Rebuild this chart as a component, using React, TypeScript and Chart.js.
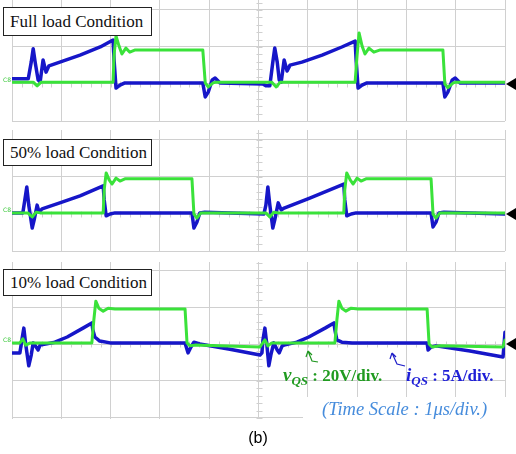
import React, { useEffect, useRef } from "react";
import { Chart, registerables } from "chart.js";
Chart.register(...registerables);

// ---- data (time in µs = divisions, amplitude in divisions) ----
const xTicks = [0, 1, 2, 3, 4, 5, 6, 7, 8, 9, 10];

// Full load
const p1GreenT = [0, 0.43, 0.51, 0.59, 2.05, 2.07, 2.11, 2.17, 2.23, 2.31, 2.39, 2.5, 3.87, 3.92, 3.98, 4.08, 4.14, 5.27, 5.36, 5.44, 6.96, 7.0, 7.04, 7.1, 7.16, 7.24, 7.34, 7.47, 8.74, 8.78, 8.84, 8.95, 9.01, 10];
const p1GreenV = [0.05, 0.05, -0.05, 0.05, 0.05, 0.78, 1.3, 1.03, 0.81, 0.97, 0.86, 0.92, 0.92, 0.03, -0.08, 0.03, 0.05, 0.05, -0.08, 0.05, 0.05, 0.78, 1.38, 1.03, 0.81, 0.97, 0.86, 0.92, 0.92, 0.0, -0.1, 0.03, 0.05, 0.05];
const p1BlueT = [0, 0.33, 0.39, 0.43, 0.47, 0.53, 0.57, 0.63, 0.69, 0.75, 0.97, 1.38, 1.79, 2.05, 2.07, 2.11, 2.19, 2.29, 3.87, 3.92, 3.98, 4.06, 4.12, 4.22, 5.09, 5.15, 5.23, 5.29, 5.33, 5.38, 5.42, 5.46, 5.52, 5.58, 5.64, 5.88, 6.29, 6.69, 6.96, 6.98, 7.02, 7.1, 7.2, 8.74, 8.78, 8.84, 8.93, 8.99, 9.09, 10];
const p1BlueV = [0.14, 0.14, 0.59, 0.95, 0.59, 0.11, 0.05, 0.65, 0.32, 0.49, 0.59, 0.78, 1.0, 1.19, 0.65, -0.11, -0.03, 0.03, 0.03, -0.35, -0.22, 0.11, 0.16, 0.03, 0, -0.05, -0.05, 0.59, 0.97, 0.59, 0.11, 0.05, 0.65, 0.35, 0.51, 0.59, 0.78, 1.0, 1.16, 0.65, -0.11, -0.03, 0.03, 0.03, -0.35, -0.22, 0.11, 0.16, 0.03, 0.03];

// 50% load
const p2GreenT = [0, 0.32, 0.41, 0.49, 0.57, 1.85, 1.87, 1.91, 1.97, 2.03, 2.11, 2.19, 2.29, 3.65, 3.69, 3.75, 3.83, 3.89, 5.15, 5.23, 5.31, 5.4, 6.73, 6.75, 6.79, 6.86, 6.92, 7.0, 7.08, 7.18, 8.5, 8.54, 8.6, 8.68, 10];
const p2GreenV = [0.03, 0.03, -0.08, 0.05, 0.03, 0.03, 0.65, 1.11, 0.92, 0.81, 0.97, 0.89, 0.95, 0.95, 0, -0.11, 0.03, 0.03, 0.03, -0.08, 0.05, 0.03, 0.03, 0.65, 1.11, 0.92, 0.81, 0.97, 0.89, 0.95, 0.95, 0, -0.11, 0.03, 0.03];
const p2BlueT = [0, 0.22, 0.26, 0.3, 0.34, 0.41, 0.45, 0.51, 0.55, 0.61, 0.97, 1.38, 1.85, 1.87, 1.91, 1.99, 2.09, 3.65, 3.69, 3.75, 3.81, 3.91, 5.11, 5.15, 5.19, 5.23, 5.29, 5.33, 5.4, 5.46, 5.52, 6.04, 6.73, 6.75, 6.79, 6.88, 6.98, 8.5, 8.54, 8.6, 8.66, 8.76, 10];
const p2BlueV = [0.03, 0.03, 0.38, 0.73, 0.24, -0.38, -0.16, 0.24, 0.05, 0.14, 0.3, 0.49, 0.76, 0.38, -0.05, 0, 0.03, 0.03, -0.38, -0.22, 0.03, 0.05, 0, 0.24, 0.73, 0.24, -0.38, -0.16, 0.3, 0.11, 0.16, 0.43, 0.81, 0.38, -0.05, 0, 0.03, 0.03, -0.35, -0.22, 0.03, 0.05, 0];

// 10% load
const p3GreenT = [0, 0.16, 0.22, 0.28, 0.37, 1.62, 1.66, 1.7, 1.76, 1.85, 1.95, 2.09, 3.51, 3.55, 3.61, 3.71, 5.03, 5.07, 5.13, 5.19, 5.27, 6.55, 6.59, 6.63, 6.69, 6.77, 6.88, 7.02, 8.42, 8.46, 8.52, 8.68, 9.96, 10];
const p3GreenV = [0.03, 0.03, 0.14, -0.03, 0.03, 0.03, 0.65, 1.16, 0.97, 0.89, 0.97, 0.95, 0.95, 0.03, -0.05, -0.03, -0.08, 0, 0.11, -0.05, 0.03, 0.03, 0.65, 1.16, 0.97, 0.89, 0.97, 0.95, 0.95, 0, -0.08, -0.05, -0.08, 0.11];
const p3BlueT = [0, 0.16, 0.2, 0.24, 0.28, 0.34, 0.39, 0.43, 0.49, 0.53, 0.57, 0.87, 1.12, 1.44, 1.62, 1.64, 1.68, 1.78, 1.99, 3.51, 3.57, 3.63, 3.69, 3.81, 4.42, 5.03, 5.07, 5.09, 5.13, 5.17, 5.21, 5.25, 5.31, 5.38, 5.42, 5.48, 5.52, 5.78, 6.02, 6.35, 6.53, 6.55, 6.59, 6.69, 6.9, 8.42, 8.44, 8.5, 8.6, 9.29, 9.96, 9.98, 10];
const p3BlueV = [-0.24, -0.24, 0.11, 0.43, -0.03, -0.59, -0.3, 0.03, -0.08, -0.16, -0.03, 0.05, 0.19, 0.43, 0.57, 0.38, 0.19, 0.08, 0.03, 0.03, -0.24, -0.08, 0.05, 0, -0.14, -0.3, -0.24, 0.11, 0.43, -0.03, -0.59, -0.3, 0.03, -0.16, -0.24, -0.05, -0.03, 0.05, 0.19, 0.43, 0.57, 0.38, 0.11, 0.05, 0.03, 0.03, -0.16, -0.08, -0.05, -0.19, -0.35, -0.03, 0.32];

const panelTitles = ["Full load Condition", "50% load Condition", "10% load Condition"];

const GREEN = "rgb(58,226,58)";
const BLUE = "rgb(22,22,200)";
const GRID = "rgb(208,208,208)";

const toPts = (t: number[], v: number[]) => t.map((x, i) => ({ x, y: v[i] }));

const scopePlugin = {
  id: "scopeDeco",
  beforeDatasetsDraw(chart: any) {
    const { ctx, scales } = chart;
    const x = scales.x, y = scales.y;
    ctx.save();
    ctx.strokeStyle = GRID;
    ctx.lineWidth = 1;
    ctx.beginPath();
    const cx = Math.round(x.getPixelForValue(5)) + 0.5;
    for (let k = Math.ceil(y.min * 5); k <= Math.floor(y.max * 5); k++) {
      const py = Math.round(y.getPixelForValue(k / 5)) + 0.5;
      ctx.moveTo(cx - 3, py);
      ctx.lineTo(cx + 3, py);
    }
    const cy = Math.round(y.getPixelForValue(0)) + 0.5;
    for (let k = 0; k <= 50; k++) {
      const px = Math.round(x.getPixelForValue(k / 5)) + 0.5;
      ctx.moveTo(px, cy - 3);
      ctx.lineTo(px, cy + 3);
    }
    ctx.stroke();
    ctx.restore();
  },
  afterDraw(chart: any) {
    const { ctx, scales, chartArea } = chart;
    const y0 = scales.y.getPixelForValue(0);
    ctx.save();
    ctx.fillStyle = "#000";
    ctx.beginPath();
    ctx.moveTo(chartArea.right + 1, y0);
    ctx.lineTo(chartArea.right + 11, y0 - 6);
    ctx.lineTo(chartArea.right + 11, y0 + 6);
    ctx.closePath();
    ctx.fill();
    ctx.fillStyle = "rgb(60,200,60)";
    ctx.font = "6px 'DejaVu Sans', sans-serif";
    ctx.textBaseline = "alphabetic";
    ctx.fillText("C8", 3, y0 - 2);
    ctx.restore();
  },
};

type PanelProps = {
  top: number;
  height: number;
  yMin: number;
  yMax: number;
  yTicks: number[];
  gT: number[];
  gV: number[];
  bT: number[];
  bV: number[];
};

function Panel(p: PanelProps) {
  const ref = useRef<HTMLCanvasElement | null>(null);
  useEffect(() => {
    if (!ref.current) return;
    const common = { pointRadius: 0, tension: 0, borderJoinStyle: "round", borderCapStyle: "round" };
    const chart = new Chart(ref.current, {
      type: "line",
      data: {
        datasets: [
          { data: toPts(p.gT, p.gV), borderColor: GREEN, borderWidth: 3, order: 0, ...common },
          { data: toPts(p.bT, p.bV), borderColor: BLUE, borderWidth: 3.5, order: 1, ...common },
        ],
      },
      options: {
        animation: false,
        responsive: false,
        maintainAspectRatio: false,
        devicePixelRatio: 1,
        layout: { padding: { left: 12, right: 11, top: 0, bottom: 1 } },
        plugins: { legend: { display: false }, tooltip: { enabled: false } },
        scales: {
          x: {
            type: "linear",
            min: 0,
            max: 10,
            ticks: { display: false },
            grid: { color: GRID, drawTicks: false, lineWidth: 1 },
            border: { display: false },
            afterBuildTicks: (s: any) => {
              s.ticks = xTicks.map((v) => ({ value: v }));
            },
          },
          y: {
            type: "linear",
            min: p.yMin,
            max: p.yMax,
            ticks: { display: false },
            grid: { color: GRID, drawTicks: false, lineWidth: 1 },
            border: { display: false },
            afterBuildTicks: (s: any) => {
              s.ticks = p.yTicks.map((v) => ({ value: v }));
            },
          },
        },
      } as any,
      plugins: [scopePlugin],
    } as any);
    return () => chart.destroy();
  }, []);
  return (
    <canvas
      ref={ref}
      width={516}
      height={p.height}
      style={{ position: "absolute", left: 0, top: p.top, width: 516, height: p.height }}
    />
  );
}

const labelStyle = (top: number, h: number): React.CSSProperties => ({
  position: "absolute",
  left: 3,
  top,
  width: 149,
  height: h,
  boxSizing: "border-box",
  border: "1px solid #222",
  background: "#fff",
  fontFamily: "'Liberation Serif', 'DejaVu Serif', serif",
  fontSize: 17,
  lineHeight: `${h - 2}px`,
  paddingLeft: 6,
  whiteSpace: "nowrap",
  color: "#111",
});

export default function App() {
  return (
    <div style={{ position: "fixed", left: 0, top: 0, width: 516, height: 454, background: "#fff", overflow: "hidden" }}>
      <Panel top={0} height={122} yMin={-1} yMax={2.27} yTicks={[-1, 0, 1, 2]} gT={p1GreenT} gV={p1GreenV} bT={p1BlueT} bV={p1BlueV} />
      <Panel top={130} height={122} yMin={-1} yMax={2.27} yTicks={[-1, 0, 1, 2]} gT={p2GreenT} gV={p2GreenV} bT={p2BlueT} bV={p2BlueV} />
      <Panel top={262} height={158} yMin={-2.03} yMax={2.22} yTicks={[-2, -1, 0, 1, 2]} gT={p3GreenT} gV={p3GreenV} bT={p3BlueT} bV={p3BlueV} />

      <div style={labelStyle(7, 29)}>{panelTitles[0]}</div>
      <div style={labelStyle(139, 27)}>{panelTitles[1]}</div>
      <div style={labelStyle(269, 27)}>{panelTitles[2]}</div>

      <div style={{ position: "absolute", left: 303, top: 397, width: 213, height: 57, background: "#fff" }} />

      <svg width={516} height={454} style={{ position: "absolute", left: 0, top: 0 }}>
        <g fill="none" strokeWidth={1.2}>
          <path d="M318 362 L312 361 L308 351 M308 351 L306 357 M308 351 L312 355" stroke="rgb(30,150,30)" />
          <path d="M405 366 L397 364 L392 353 M392 353 L390 359 M392 353 L396 357" stroke="rgb(30,30,200)" />
        </g>
      </svg>

      <div style={{ position: "absolute", left: 283, top: 366, whiteSpace: "nowrap", lineHeight: "18px", fontFamily: "'Liberation Serif', serif", fontWeight: "bold", color: "rgb(32,155,32)" }}>
        <span style={{ fontStyle: "italic", fontSize: 19 }}>v</span>
        <span style={{ fontStyle: "italic", fontSize: 13, position: "relative", top: 4 }}>QS</span>
        <span style={{ fontSize: 17 }}> : 20V/div.</span>
      </div>
      <div style={{ position: "absolute", left: 406, top: 366, whiteSpace: "nowrap", lineHeight: "18px", fontFamily: "'Liberation Serif', serif", fontWeight: "bold", color: "rgb(30,30,215)" }}>
        <span style={{ fontStyle: "italic", fontSize: 19 }}>i</span>
        <span style={{ fontStyle: "italic", fontSize: 13, position: "relative", top: 4 }}>QS</span>
        <span style={{ fontSize: 17 }}> : 5A/div.</span>
      </div>
      <div style={{ position: "absolute", left: 322, top: 399, whiteSpace: "nowrap", lineHeight: "20px", fontFamily: "'Liberation Serif', serif", fontStyle: "italic", fontSize: 18.5, color: "rgb(70,140,220)" }}>
        (Time Scale : 1μs/div.)
      </div>
      <div style={{ position: "absolute", left: 0, width: 516, top: 429, textAlign: "center", lineHeight: "18px", fontFamily: "'Liberation Sans', Arial, sans-serif", fontSize: 16, color: "#000" }}>
        (b)
      </div>
    </div>
  );
}
